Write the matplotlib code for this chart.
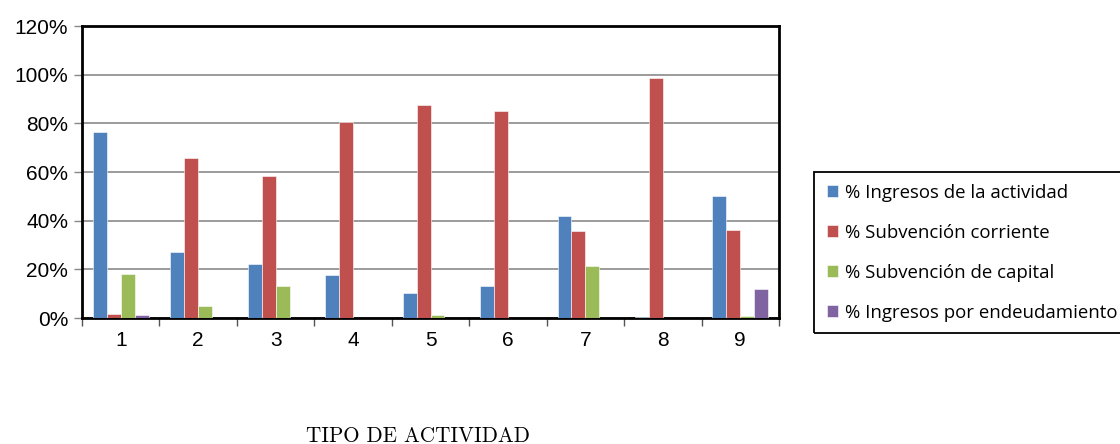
import numpy as np
import matplotlib.pyplot as plt
from matplotlib.patches import Rectangle

# tipo de actividad 1..9
categorias = ['1', '2', '3', '4', '5', '6', '7', '8', '9']

ingresos_actividad = [76.3, 27.1, 22.2, 17.5, 10.1, 13.0, 42.0, 0.3, 50.1]
subv_corriente = [1.8, 65.7, 58.2, 80.4, 87.5, 85.0, 35.7, 98.7, 36.0]
subv_capital = [18.1, 4.8, 13.3, 0.0, 1.1, 0.0, 21.4, 0.0, 0.8]
ingresos_endeudamiento = [1.1, 0.0, 0.0, 0.0, 0.0, 0.0, 0.0, 0.0, 11.9]

series = [
    ('% Ingresos de la actividad', ingresos_actividad, '#4F81BD'),
    ('% Subvención corriente', subv_corriente, '#C0504D'),
    ('% Subvención de capital', subv_capital, '#9BBB59'),
    ('% Ingresos por endeudamiento', ingresos_endeudamiento, '#8064A2'),
]

W, H = 1120, 444
fig = plt.figure(figsize=(W / 100, H / 100), dpi=100)
ax = fig.add_axes([82 / W, 1 - 318 / H, 697 / W, 292 / H])

x = np.arange(len(categorias))
w = 0.18
for i, (nombre, vals, color) in enumerate(series):
    ax.bar(x + (i - 1.5) * w, vals, width=w, color=color, label=nombre,
           edgecolor='white', linewidth=0.4, zorder=3)

ax.set_xlim(-0.5, len(categorias) - 0.5)
ax.set_ylim(0, 120)
ax.set_yticks(np.arange(0, 121, 20))
ax.set_yticklabels([f'{v}%' for v in range(0, 121, 20)],
                   fontfamily='Liberation Sans', fontsize=15)
ax.set_xticks(x)
ax.set_xticklabels(categorias, fontfamily='Liberation Sans', fontsize=15)
ax.set_xticks(np.arange(-0.5, len(categorias), 1), minor=True)
ax.tick_params(axis='x', which='major', length=0, pad=9)
ax.tick_params(axis='x', which='minor', length=6, color='#555555', width=1)
ax.tick_params(axis='y', length=6, color='#888888', width=1, pad=4)
ax.yaxis.grid(True, color='#8a8a8a', linewidth=1.2, zorder=0)
for s in ax.spines.values():
    s.set_linewidth(2)
    s.set_color('black')

fig.text(418 / W, 1 - 436 / H, 'TIPO DE ACTIVIDAD', family='cmr10',
         fontsize=15.2, ha='center', va='center')

# legend: frame drawn separately, runs off the right edge like the original
handles, labels = ax.get_legend_handles_labels()
leg = fig.legend(handles, labels, loc='upper left',
                 bbox_to_anchor=(825 / W, 1 - 182 / H),
                 prop={'family': 'Open Sans', 'size': 13.4}, frameon=False,
                 handlelength=0.62, handleheight=0.62, handletextpad=0.35,
                 labelspacing=1.18, borderpad=0.1, borderaxespad=0)
fig.add_artist(Rectangle((814 / W, 1 - 333 / H), 320 / W, 161 / H,
                         transform=fig.transFigure, fill=False,
                         edgecolor='black', linewidth=1.3))

fig.savefig('out.png', dpi=100)
